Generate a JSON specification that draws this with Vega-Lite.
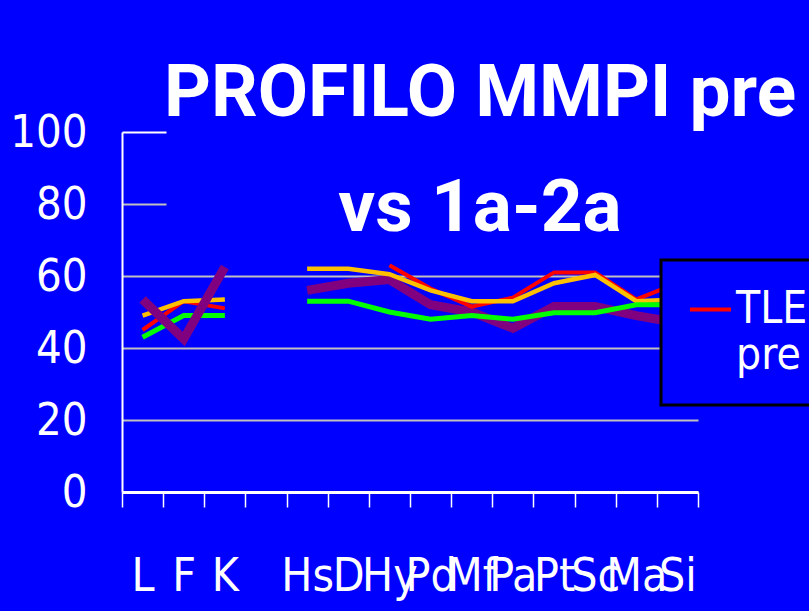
{
  "$schema": "https://vega.github.io/schema/vega-lite/v6.json",
  "width": 576,
  "height": 360,
  "autosize": {"type": "none"},
  "padding": {"left": 122, "top": 132, "right": 111, "bottom": 119},
  "background": "#0000ff",
  "title": {
    "text": ["PROFILO MMPI pre", "vs 1a-2a"],
    "font": "Roboto",
    "fontWeight": "bold",
    "fontSize": 73,
    "color": "#ffffff",
    "lineHeight": 115.5,
    "anchor": "middle",
    "frame": "group",
    "baseline": "alphabetic",
    "dx": 70,
    "dy": 194,
    "offset": 0
  },
  "config": {
    "view": {"stroke": null},
    "legend": {"strokeWidth": 3}
  },
  "data": {
    "values": [
      {"scale": "L", "grp": "val", "series": "TLE pre", "t": 45},
      {"scale": "F", "grp": "val", "series": "TLE pre", "t": 53},
      {"scale": "K", "grp": "val", "series": "TLE pre", "t": 51},
      {"scale": "Hy", "grp": "clin", "series": "TLE pre", "t": 63},
      {"scale": "Pd", "grp": "clin", "series": "TLE pre", "t": 56.5},
      {"scale": "Mf", "grp": "clin", "series": "TLE pre", "t": 51.5},
      {"scale": "Pa", "grp": "clin", "series": "TLE pre", "t": 54},
      {"scale": "Pt", "grp": "clin", "series": "TLE pre", "t": 61},
      {"scale": "Sc", "grp": "clin", "series": "TLE pre", "t": 61},
      {"scale": "Ma", "grp": "clin", "series": "TLE pre", "t": 53.5},
      {"scale": "Si", "grp": "clin", "series": "TLE pre", "t": 58},

      {"scale": "L", "grp": "val", "series": "TLE 1a", "t": 49},
      {"scale": "F", "grp": "val", "series": "TLE 1a", "t": 53},
      {"scale": "K", "grp": "val", "series": "TLE 1a", "t": 53.5},
      {"scale": "Hs", "grp": "clin", "series": "TLE 1a", "t": 62},
      {"scale": "D", "grp": "clin", "series": "TLE 1a", "t": 62},
      {"scale": "Hy", "grp": "clin", "series": "TLE 1a", "t": 60.5},
      {"scale": "Pd", "grp": "clin", "series": "TLE 1a", "t": 56},
      {"scale": "Mf", "grp": "clin", "series": "TLE 1a", "t": 53},
      {"scale": "Pa", "grp": "clin", "series": "TLE 1a", "t": 53},
      {"scale": "Pt", "grp": "clin", "series": "TLE 1a", "t": 58},
      {"scale": "Sc", "grp": "clin", "series": "TLE 1a", "t": 60.3},
      {"scale": "Ma", "grp": "clin", "series": "TLE 1a", "t": 53},
      {"scale": "Si", "grp": "clin", "series": "TLE 1a", "t": 53.5},

      {"scale": "L", "grp": "val", "series": "TLE 2a", "t": 43},
      {"scale": "F", "grp": "val", "series": "TLE 2a", "t": 49},
      {"scale": "K", "grp": "val", "series": "TLE 2a", "t": 49},
      {"scale": "Hs", "grp": "clin", "series": "TLE 2a", "t": 53},
      {"scale": "D", "grp": "clin", "series": "TLE 2a", "t": 53},
      {"scale": "Hy", "grp": "clin", "series": "TLE 2a", "t": 50},
      {"scale": "Pd", "grp": "clin", "series": "TLE 2a", "t": 48},
      {"scale": "Mf", "grp": "clin", "series": "TLE 2a", "t": 49},
      {"scale": "Pa", "grp": "clin", "series": "TLE 2a", "t": 48},
      {"scale": "Pt", "grp": "clin", "series": "TLE 2a", "t": 49.8},
      {"scale": "Sc", "grp": "clin", "series": "TLE 2a", "t": 49.8},
      {"scale": "Ma", "grp": "clin", "series": "TLE 2a", "t": 52},
      {"scale": "Si", "grp": "clin", "series": "TLE 2a", "t": 52},

      {"scale": "L", "grp": "val", "series": "Controlli", "t": 53.5},
      {"scale": "F", "grp": "val", "series": "Controlli", "t": 42.5},
      {"scale": "K", "grp": "val", "series": "Controlli", "t": 62.5},
      {"scale": "Hs", "grp": "clin", "series": "Controlli", "t": 56},
      {"scale": "D", "grp": "clin", "series": "Controlli", "t": 58},
      {"scale": "Hy", "grp": "clin", "series": "Controlli", "t": 59},
      {"scale": "Pd", "grp": "clin", "series": "Controlli", "t": 52},
      {"scale": "Mf", "grp": "clin", "series": "Controlli", "t": 50},
      {"scale": "Pa", "grp": "clin", "series": "Controlli", "t": 45.5},
      {"scale": "Pt", "grp": "clin", "series": "Controlli", "t": 51.5},
      {"scale": "Sc", "grp": "clin", "series": "Controlli", "t": 51.5},
      {"scale": "Ma", "grp": "clin", "series": "Controlli", "t": 49},
      {"scale": "Si", "grp": "clin", "series": "Controlli", "t": 47}
    ]
  },
  "encoding": {
    "x": {
      "field": "scale",
      "type": "ordinal",
      "bandPosition": 0.5,
      "scale": {
        "type": "band",
        "domain": ["L", "F", "K", " ", "Hs", "D", "Hy", "Pd", "Mf", "Pa", "Pt", "Sc", "Ma", "Si"],
        "paddingInner": 0,
        "paddingOuter": 0
      },
      "axis": {
        "title": null,
        "domainColor": "#ffffff",
        "domainWidth": 3,
        "tickBand": "extent",
        "tickSize": 15,
        "tickColor": "#ffffff",
        "tickWidth": 1.5,
        "labelFont": "DejaVu Sans Condensed",
        "labelFontSize": 46,
        "labelColor": "#ffffff",
        "labelAngle": 0,
        "labelBaseline": "alphabetic",
        "labelPadding": 83,
        "labelOverlap": false,
        "labelBound": false,
        "labelFlush": false,
        "labelLimit": 0,
        "grid": false
      }
    },
    "y": {
      "field": "t",
      "type": "quantitative",
      "scale": {"domain": [0, 100], "nice": false},
      "axis": {
        "title": null,
        "values": [0, 20, 40, 60, 80, 100],
        "domainColor": "#ffffff",
        "domainWidth": 2,
        "grid": true,
        "gridColor": "#c0c0c0",
        "gridWidth": 2,
        "gridOpacity": {"condition": {"test": "datum.value >= 80", "value": 0}, "value": 1},
        "tickSize": {"condition": {"test": "datum.value >= 80", "value": -44}, "value": 0},
        "tickColor": {"condition": {"test": "datum.value == 100", "value": "#ffffff"}, "value": "#c0c0c0"},
        "tickWidth": 2,
        "labelFont": "DejaVu Sans Condensed",
        "labelFontSize": 45,
        "labelColor": "#ffffff",
        "labelPadding": {"condition": {"test": "datum.value >= 80", "value": 79}, "value": 35}
      }
    },
    "color": {
      "field": "series",
      "type": "nominal",
      "scale": {
        "domain": ["TLE pre", "TLE 1a", "TLE 2a", "Controlli"],
        "range": ["#ff0000", "#ffc000", "#00ff00", "#800080"]
      },
      "legend": {
        "values": ["TLE pre"],
        "orient": "none",
        "legendX": 539,
        "legendY": 128,
        "title": null,
        "fillColor": "#0000ff",
        "strokeColor": "#000000",
        "padding": 27,
        "symbolType": "stroke",
        "symbolSize": 1681,
        "symbolStrokeWidth": 4,
        "labelFont": "DejaVu Sans Condensed",
        "labelFontSize": 44,
        "labelColor": "#ffffff",
        "labelOffset": 3,
        "labelLimit": 0,
        "labelExpr": "datum.label == 'TLE pre' ? ['TLE', 'pre'] : datum.label"
      }
    },
    "detail": {"field": "grp"}
  },
  "layer": [
    {
      "transform": [{"filter": "datum.series == 'Controlli' && datum.grp == 'clin'"}],
      "mark": {"type": "line", "strokeWidth": 9, "strokeJoin": "miter"}
    },
    {
      "transform": [{"filter": "datum.series != 'Controlli'"}],
      "mark": {"type": "line", "strokeJoin": "miter"},
      "encoding": {
        "strokeWidth": {
          "field": "series",
          "type": "nominal",
          "scale": {"domain": ["TLE pre", "TLE 1a", "TLE 2a"], "range": [4, 5, 4]},
          "legend": null
        }
      }
    },
    {
      "transform": [{"filter": "datum.series == 'Controlli' && datum.grp == 'val'"}],
      "mark": {"type": "line", "strokeWidth": 9, "strokeJoin": "miter"}
    }
  ]
}
